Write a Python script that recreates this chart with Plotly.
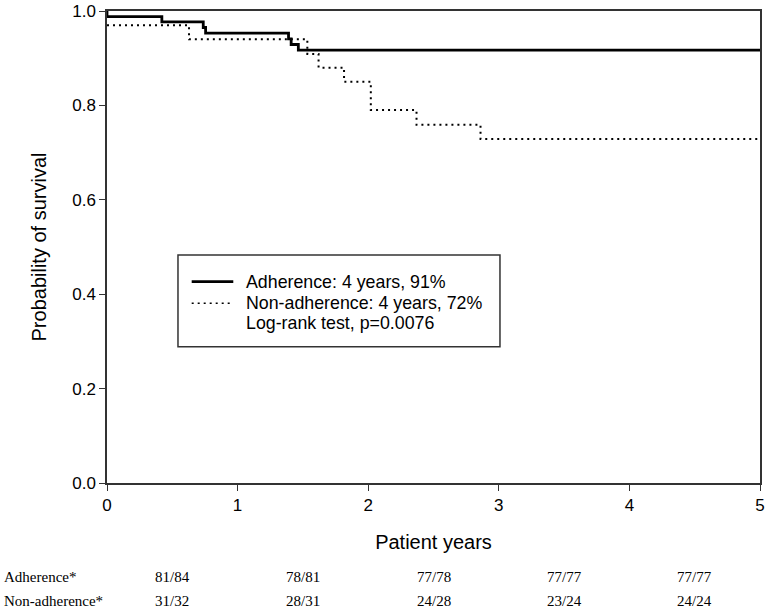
import plotly.graph_objects as go

# Kaplan-Meier step data
adh_time = [0, 0, 0.42, 0.737, 0.755, 1.39, 1.41, 1.465, 5]
adh_surv = [1.0, 0.988, 0.977, 0.965, 0.953, 0.941, 0.929, 0.917, 0.917]

non_time = [0, 0.628, 1.534, 1.62, 1.815, 2.02, 2.37, 2.86, 5]
non_surv = [0.97, 0.94, 0.909, 0.88, 0.85, 0.79, 0.759, 0.729, 0.729]

x_ticks = [0, 1, 2, 3, 4, 5]
y_ticks = [0.0, 0.2, 0.4, 0.6, 0.8, 1.0]

legend_lines = ["Adherence: 4 years, 91%", "Non-adherence: 4 years, 72%",
                "Log-rank test, p=0.0076"]

table_positions = [0.5, 1.5, 2.5, 3.5, 4.5]
table_rows = ["Adherence*", "Non-adherence*"]
adh_table = ["81/84", "78/81", "77/78", "77/77", "77/77"]
non_table = ["31/32", "28/31", "24/28", "23/24", "24/24"]

SANS = "Liberation Sans, Arial, sans-serif"
SERIF = "Liberation Serif, Times New Roman, serif"

fig = go.Figure()
fig.add_trace(go.Scatter(x=adh_time, y=adh_surv, mode="lines", line_shape="hv",
                         line=dict(color="black", width=2.8), showlegend=False))
fig.add_trace(go.Scatter(x=non_time, y=non_surv, mode="lines", line_shape="hv",
                         line=dict(color="black", width=2, dash="2px,4px"),
                         showlegend=False))

axis_common = dict(showgrid=False, zeroline=False, showline=True, mirror=True,
                   linecolor="#333333", linewidth=1.5, ticks="outside", ticklen=6,
                   tickcolor="#333333", tickwidth=1.3, automargin=False,
                   ticklabeloverflow="allow",
                   tickfont=dict(family=SANS, size=17, color="black"))

fig.update_xaxes(range=[0, 5], tickvals=x_ticks, ticktext=[str(v) for v in x_ticks],
                 title=dict(text="Patient years", font=dict(family=SANS, size=20, color="black"),
                            standoff=21),
                 **axis_common)
fig.update_yaxes(range=[0, 1], tickvals=y_ticks, ticktext=[f"{v:.1f}" for v in y_ticks],
                 title=dict(text="Probability of survival", font=dict(family=SANS, size=20, color="black"),
                            standoff=20),
                 **axis_common)

# legend box (manual)
shapes = [
    dict(type="rect", xref="paper", yref="paper", x0=0.1087, x1=0.6018, y0=0.2888, y1=0.483,
         line=dict(color="#333333", width=1.5), fillcolor="white", layer="above"),
    dict(type="line", xref="paper", yref="paper", x0=0.1297, x1=0.1934, y0=0.4265, y1=0.4265,
         line=dict(color="black", width=2.8), layer="above"),
    dict(type="line", xref="paper", yref="paper", x0=0.1297, x1=0.1934, y0=0.3807, y1=0.3807,
         line=dict(color="black", width=1.5, dash="2px,4px"), layer="above"),
]
annotations = []
for txt, yy in zip(legend_lines, [0.4265, 0.3807, 0.3396]):
    annotations.append(dict(text=txt, xref="paper", yref="paper", x=0.2098, y=yy,
                            xanchor="left", yanchor="middle", showarrow=False,
                            font=dict(family=SANS, size=17.8, color="black")))

# number-at-risk table
row_y = [-0.199, -0.25]
for label, yy in zip(table_rows, row_y):
    annotations.append(dict(text=label, xref="paper", yref="paper", x=-0.1608, y=yy,
                            xanchor="left", yanchor="middle", showarrow=False,
                            font=dict(family=SERIF, size=15, color="black")))
for vals, yy in zip([adh_table, non_table], row_y):
    for xv, v in zip(table_positions, vals):
        annotations.append(dict(text=v, xref="x", yref="paper", x=xv, y=yy,
                                xanchor="center", yanchor="middle", showarrow=False,
                                font=dict(family=SERIF, size=15, color="black")))

fig.update_layout(width=767, height=614, margin=dict(l=107, r=7, t=11, b=131, autoexpand=False),
                  paper_bgcolor="white", plot_bgcolor="white",
                  shapes=shapes, annotations=annotations, showlegend=False)

# remove the default 8px page margin so the figure fills the window exactly
fig.write_html("out.html", config={"displayModeBar": False},
               post_script="document.body.style.margin='0';document.body.style.overflow='hidden';")
